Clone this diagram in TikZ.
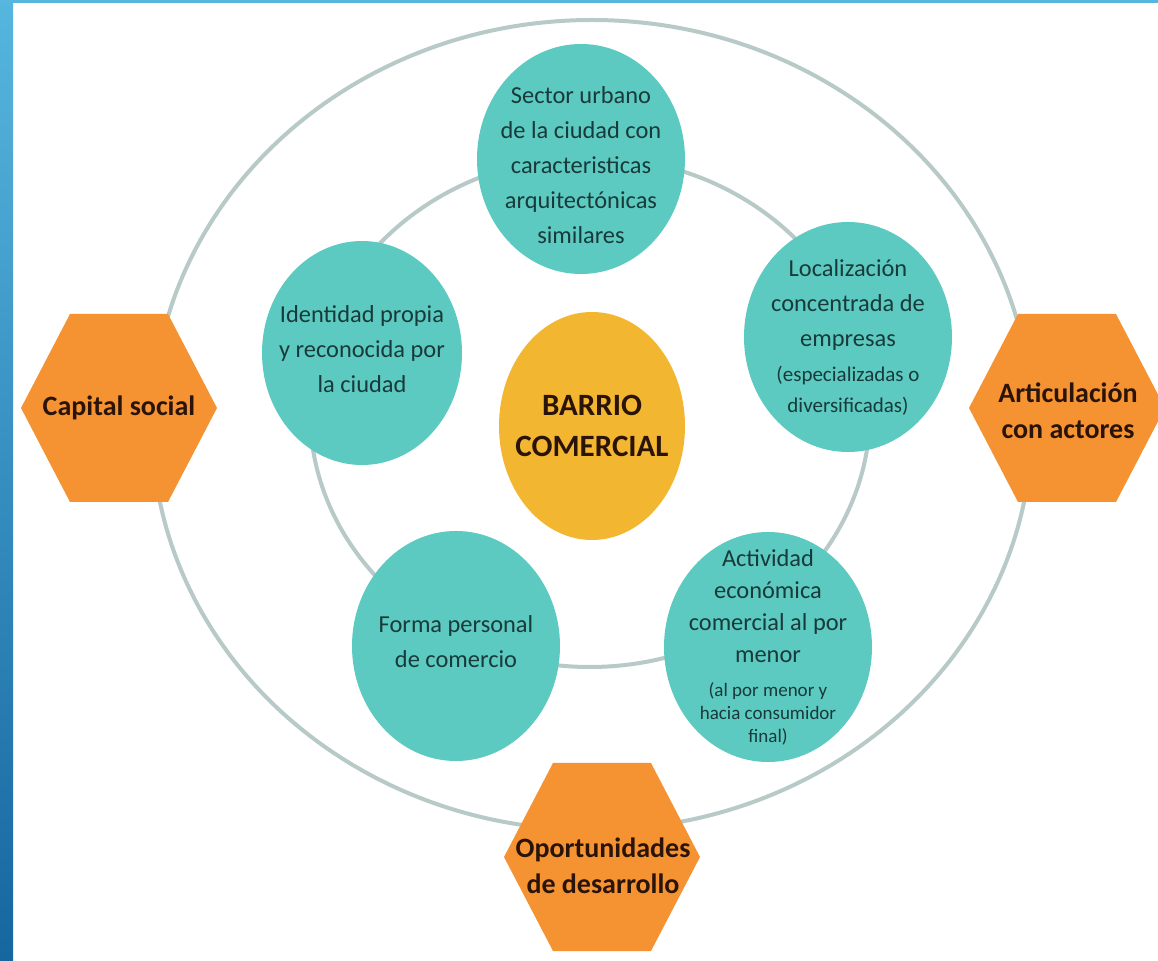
\documentclass[tikz,border=0pt]{standalone}
\usepackage{fontspec}
\setmainfont{Carlito}
\usetikzlibrary{shapes.geometric, positioning}

\definecolor{bartop}{RGB}{86,182,222}
\definecolor{barbot}{RGB}{22,102,160}
\definecolor{ringgray}{RGB}{184,202,199}
\definecolor{tealfill}{RGB}{92,202,192}
\definecolor{tealink}{RGB}{24,58,58}
\definecolor{hexorange}{RGB}{245,146,50}
\definecolor{hexink}{RGB}{42,20,10}
\definecolor{coreyellow}{RGB}{243,182,48}

\newcommand\smalltxt{\fontsize{10.5}{15}\selectfont}
\newcommand\tinytxt{\fontsize{9.5}{11.5}\selectfont}

\tikzset{
  ring/.style={draw=ringgray, line width=2pt},
  bubble/.style={ellipse, fill=tealfill, minimum width=104pt, minimum height=115pt, inner sep=0pt},
  txt/.style={align=center, text=tealink, font=\fontsize{12.2}{17.5}\selectfont},
  hexfill/.style={fill=hexorange},
  hextxt/.style={align=center, text=hexink, font=\bfseries\fontsize{14}{18}\selectfont}
}

\begin{document}
\begin{tikzpicture}[x=0.5pt, y=0.5pt]
\useasboundingbox (0,0) rectangle (1158,960);
\fill[white] (0,0) rectangle (1158,960);
\shade[top color=bartop, bottom color=barbot] (0,0) rectangle (13,960);
\fill[bartop] (0,957) rectangle (1158,960);

\draw[ring] (592,535) ellipse [x radius=440, y radius=405];
\draw[ring] (590,548) ellipse [x radius=280, y radius=255];

\node[bubble, label={[txt, yshift=-3pt]center:{Sector urbano\\de la ciudad con\\caracteristicas\\arquitectónicas\\similares}}]
  (sector) at (581,801) {};
\node[bubble, minimum width=100pt, minimum height=112pt,
  label={[txt, yshift=2pt]center:{Identidad propia\\y reconocida por\\la ciudad}}]
  (identidad) at (362,607) {};
\node[bubble, label={[txt]center:{Localización\\concentrada de\\empresas\\{\smalltxt(especializadas o}\\[-2pt]{\smalltxt diversificadas)}}}]
  (localizacion) at (848,623) {};
\node[bubble, label={[txt, yshift=2pt]center:{Forma personal\\de comercio}}]
  (forma) at (456,314) {};
\node[bubble, label={[txt, font=\fontsize{12.2}{16}\selectfont]center:{Actividad\\económica\\comercial al por\\menor\\[1pt]{\tinytxt(al por menor y}\\[-4.5pt]{\tinytxt hacia consumidor}\\[-4.5pt]{\tinytxt final)}}}]
  (actividad) at (768,313) {};
\node[ellipse, fill=coreyellow, minimum width=93pt, minimum height=114pt, inner sep=0pt,
  label={[hextxt, font=\bfseries\fontsize{15.5}{20.5}\selectfont]center:{BARRIO\\COMERCIAL}}]
  (barrio) at (592,534) {};

\foreach \cx/\cy in {119/552, 1067/552, 602/103}
  \fill[hexfill, shift={(\cx,\cy)}] (-98,0) -- (-49,94) -- (49,94) -- (98,0) -- (49,-94) -- (-49,-94) -- cycle;
\node[hextxt] (capital) at (119,552) {Capital social};
\node[hextxt] (articulacion) at (1068,549) {Articulación\\con actores};
\node[hextxt] (oportunidades) at (603,94) {Oportunidades\\de desarrollo};
\end{tikzpicture}
\end{document}
